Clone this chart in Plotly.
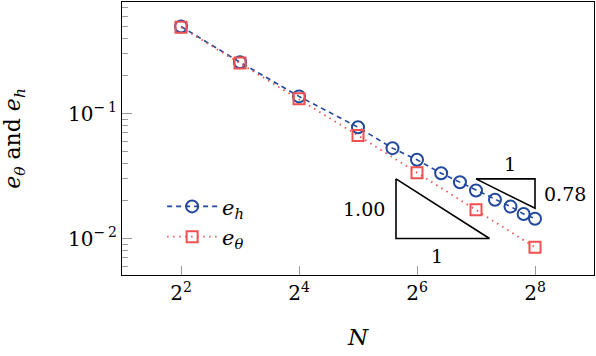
import math
import plotly.graph_objects as go

# ==========================
# DATA
# ==========================
N_h = [4, 8, 16, 32, 48, 64, 85, 106, 128, 160, 192, 224, 256]
e_h = [0.497, 0.257, 0.137, 0.0777, 0.0528, 0.0426, 0.0333, 0.0282,
       0.0242, 0.0204, 0.0180, 0.0157, 0.0144]

N_theta = [4, 8, 16, 32, 64, 128, 256]
e_theta = [0.490, 0.253, 0.131, 0.0667, 0.0336, 0.0170, 0.0085]

x_tickvals = [4, 16, 64, 256]
x_ticktext = ["2<sup>2</sup>", "2<sup>4</sup>", "2<sup>6</sup>", "2<sup>8</sup>"]
y_tickvals = [0.01, 0.1]
y_ticktext = ["10<sup>\u2212\u20092</sup>", "10<sup>\u2212\u20091</sup>"]
y_minor = [0.006, 0.007, 0.008, 0.009,
           0.02, 0.03, 0.04, 0.05, 0.06, 0.07, 0.08, 0.09,
           0.2, 0.3, 0.4, 0.5, 0.6, 0.7, 0.8, 0.9]

# slope triangles (anchor corner, width in N, slope)
big_x = [50, 150]
big_y0 = 0.01
big_slope = 1.00
small_x = [128, 256]
small_y0 = 0.03
small_slope = 0.78

BLUE = '#21489b'
RED = '#ef5050'
FONT = 'DejaVu Serif'

# ==========================
# FIGURE
# ==========================
fig = go.Figure()

fig.add_trace(go.Scatter(
    x=N_h, y=e_h, mode='lines+markers', name='<i>e</i><sub><i>h</i></sub>',
    line=dict(color=BLUE, width=1.6, dash='5px,4px'),
    marker=dict(symbol='circle-open', size=12, color=BLUE, line=dict(width=2))
))

fig.add_trace(go.Scatter(
    x=N_theta, y=e_theta, mode='lines+markers', name='<i>e</i><sub><i>\u03b8</i></sub>',
    line=dict(color=RED, width=1.8, dash='1.5px,4.5px'),
    marker=dict(symbol='square-open', size=11, color=RED, line=dict(width=2))
))

# big triangle: vertical edge on the left
big_top = big_y0 * (big_x[1] / big_x[0]) ** big_slope
fig.add_trace(go.Scatter(
    x=[big_x[0], big_x[0], big_x[1], big_x[0]],
    y=[big_top, big_y0, big_y0, big_top],
    mode='lines', line=dict(color='black', width=1.6),
    showlegend=False, hoverinfo='skip'
))

# small triangle: vertical edge on the right
small_bot = small_y0 * (small_x[0] / small_x[1]) ** small_slope
fig.add_trace(go.Scatter(
    x=[small_x[0], small_x[1], small_x[1], small_x[0]],
    y=[small_y0, small_y0, small_bot, small_y0],
    mode='lines', line=dict(color='black', width=1.6),
    showlegend=False, hoverinfo='skip'
))

lbl = dict(size=19, color='black', family=FONT)
fig.add_annotation(x=math.log10(big_x[0]), y=math.log10(math.sqrt(big_top * big_y0)),
                   text='1.00', showarrow=False, xanchor='right', xshift=-9, font=lbl)
fig.add_annotation(x=math.log10(math.sqrt(big_x[0] * big_x[1])), y=math.log10(big_y0),
                   text='1', showarrow=False, yanchor='top', yshift=-4, xshift=-6, font=lbl)
fig.add_annotation(x=math.log10(math.sqrt(small_x[0] * small_x[1])), y=math.log10(small_y0),
                   text='1', showarrow=False, yanchor='bottom', yshift=2, xshift=4, font=lbl)
fig.add_annotation(x=math.log10(small_x[1]), y=math.log10(math.sqrt(small_y0 * small_bot)),
                   text='0.78', showarrow=False, xanchor='left', xshift=7, font=lbl)

fig.update_xaxes(
    type='log', range=[math.log10(2), math.log10(512)], automargin=False,
    tickvals=x_tickvals, ticktext=x_ticktext,
    ticks='inside', ticklen=9, tickcolor='#9a9a9a', tickwidth=1,
    showline=True, mirror=True, linecolor='black', linewidth=1.3,
    showgrid=False, zeroline=False,
    tickfont=dict(size=20, family=FONT, color='black'),
    title=dict(text='<i>N</i>', font=dict(size=23, family=FONT, color='black'), standoff=24)
)

fig.update_yaxes(
    type='log', range=[-2.292, -0.108], automargin=False,
    tickvals=y_tickvals, ticktext=y_ticktext,
    ticks='inside', ticklen=10, tickcolor='#9a9a9a', tickwidth=1,
    minor=dict(tickvals=y_minor, ticks='inside', ticklen=6, tickcolor='#9a9a9a', tickwidth=1),
    showline=True, mirror=True, linecolor='black', linewidth=1.3,
    showgrid=False, zeroline=False,
    tickfont=dict(size=20, family=FONT, color='black'),
    title=dict(text='<i>e</i><sub><i>\u03b8</i></sub> and <i>e</i><sub><i>h</i></sub>',
               font=dict(size=22, family=FONT, color='black'), standoff=42)
)

fig.update_layout(
    width=596, height=356,
    margin=dict(l=122, r=2, t=2, b=81),
    plot_bgcolor='white',
    paper_bgcolor='white',
    font=dict(family=FONT, color='black'),
    legend=dict(x=0.085, y=0.325, xanchor='left', yanchor='top',
                bgcolor='rgba(0,0,0,0)', borderwidth=0, itemwidth=50,
                font=dict(size=21, family=FONT, color='black'),
                tracegroupgap=0)
)

# page body has a default margin; drop it so the figure sits at the window corner
fig.write_html("out.html", config={'responsive': False, 'displayModeBar': False},
               post_script="document.body.style.margin='0';")
